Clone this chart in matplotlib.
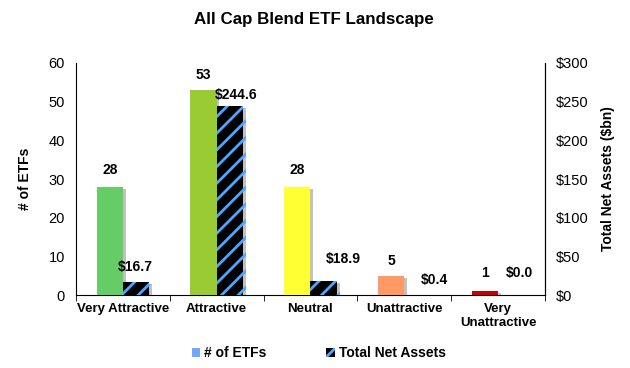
import matplotlib
matplotlib.use('Agg')
import matplotlib.pyplot as plt
import matplotlib.patheffects as pe
import numpy as np

plt.rcParams['font.family'] = ['Liberation Sans', 'DejaVu Sans']
plt.rcParams['hatch.linewidth'] = 2.0

categories = ['Very Attractive', 'Attractive', 'Neutral', 'Unattractive', 'Very\nUnattractive']
etf_counts = [28, 53, 28, 5, 1]
net_assets = [16.7, 244.6, 18.9, 0.4, 0.0]
bar_colors = ['#66cc66', '#99cc33', '#ffff33', '#ff9966', '#cc0000']
left_ticks = [0, 10, 20, 30, 40, 50, 60]
right_ticks = [0, 50, 100, 150, 200, 250, 300]

# label nudges (pixels) to mimic the excel placement
count_lab_dy = [17, 15, 17, 15, 18]
asset_lab_dx = [-1, 6, 20, 17, 8]
asset_lab_dy = [15, 11, 22, 15, 22]

fig = plt.figure(figsize=(6.3, 3.68), dpi=100)
ax = fig.add_axes([0.1206, 0.198, 0.7444, 0.631])
ax2 = ax.twinx()

x = np.arange(len(categories))
w = 0.28
shadow = [pe.SimplePatchShadow(offset=(2, -1.5), shadow_rgbFace='#999999', alpha=0.6), pe.Normal()]

b1 = ax.bar(x - w/2, etf_counts, w, color=bar_colors, linewidth=0, zorder=3)
b2 = ax2.bar(x + w/2, net_assets, w, facecolor='black', edgecolor='#4da6ff', hatch='//', linewidth=0, zorder=3)
for p in list(b1) + list(b2):
    p.set_path_effects(shadow)

px = 0.72  # points per pixel at dpi 100
for xi, v, dy in zip(x, etf_counts, count_lab_dy):
    ax.annotate(str(v), (xi - w/2, v), xytext=(0, dy*px), textcoords='offset points',
                ha='center', va='center', fontsize=10, fontweight='bold')
for xi, v, dx, dy in zip(x, net_assets, asset_lab_dx, asset_lab_dy):
    ax2.annotate('${:.1f}'.format(v), (xi + w/2, v), xytext=(dx*px, dy*px), textcoords='offset points',
                 ha='center', va='center', fontsize=10, fontweight='bold')

ax.set_xlim(-0.5, len(categories) - 0.5)
ax.set_ylim(0, 60)
ax2.set_ylim(0, 300)
ax.set_yticks(left_ticks)
ax2.set_yticks(right_ticks)
ax2.set_yticklabels(['${}'.format(t) for t in right_ticks])
ax.set_xticks(x)
ax.set_xticklabels(categories, fontweight='bold', fontsize=9.5)
ax.set_xticks(np.arange(-0.5, len(categories)), minor=True)
ax.tick_params(axis='x', which='major', length=0, pad=6)
ax.tick_params(axis='x', which='minor', length=4, direction='out')
ax.tick_params(axis='y', length=0, labelsize=10.5, pad=8)
ax2.tick_params(axis='y', length=0, labelsize=10.5, pad=8)

for a in (ax, ax2):
    a.spines['top'].set_visible(False)
ax2.spines['left'].set_visible(False)
ax2.spines['bottom'].set_visible(False)

ax.set_ylabel('# of ETFs', fontsize=10, fontweight='bold', labelpad=12)
ax2.set_ylabel('Total Net Assets ($bn)', fontsize=10, fontweight='bold', labelpad=9)

fig.suptitle('All Cap Blend ETF Landscape', x=0.499, y=0.946, va='center', fontsize=12.2, fontweight='bold')

leg_handles = [plt.Rectangle((0, 0), 1, 1, facecolor='#6fa8ff', linewidth=0),
               plt.Rectangle((0, 0), 1, 1, facecolor='black', edgecolor='#4da6ff', hatch='//', linewidth=0)]
fig.legend(leg_handles, ['# of ETFs', 'Total Net Assets'], loc='center', bbox_to_anchor=(0.506, 0.04),
           ncol=2, frameon=False, handlelength=0.6, handleheight=0.6, handletextpad=0.3,
           columnspacing=4.3, prop={'weight': 'bold', 'size': 10})

fig.savefig('out.png', dpi=100)
